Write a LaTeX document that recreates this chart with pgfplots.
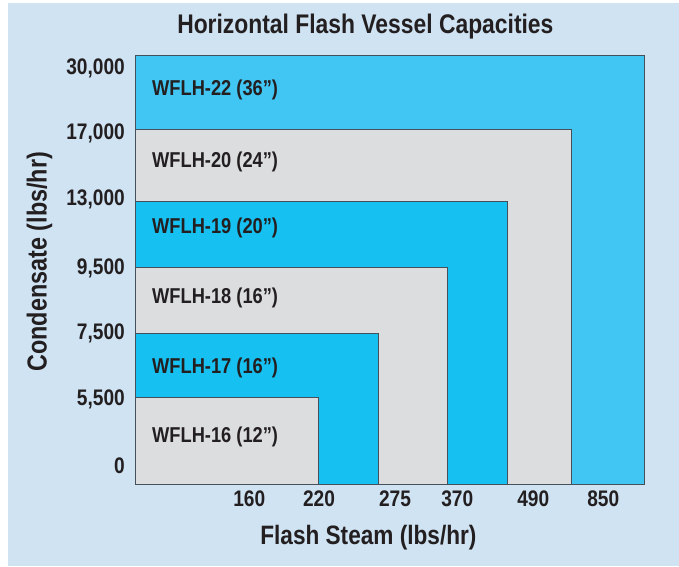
\documentclass[border=0pt]{standalone}
\usepackage{fontspec}
\setmainfont{Liberation Sans}[FakeStretch=0.85]
\usepackage{pgfplots}
\pgfplotsset{compat=1.18}
\definecolor{bgblue}{HTML}{CFE3F3}
\definecolor{cyanA}{HTML}{41C5F3}
\definecolor{cyanB}{HTML}{16C0F0}
\definecolor{boxgray}{HTML}{DCDDDF}
\definecolor{edge}{HTML}{45505A}
\definecolor{txt}{HTML}{231F20}
\begin{document}
\begin{tikzpicture}
\fill[white] (0pt,0pt) rectangle (679pt,566pt);
\fill[bgblue] (8pt,0pt) rectangle (679pt,563pt);
\begin{axis}[
  at={(135.5pt,82pt)}, anchor=south west,
  scale only axis, width=508.5pt, height=429pt,
  xmin=0, xmax=508.5, ymin=0, ymax=429,
  axis line style={draw=edge, line width=0.8pt},
  major tick length=0pt,
  /pgf/number format/assume math mode=true,
  xtick={113.8,183.5,259.5,321.8,397.8,467.8},
  xticklabels={160,220,275,370,490,850},
  ytick={18,85,151,216,285,351,416},
  yticklabels={0,{5,500},{7,500},{9,500},{13,000},{17,000},{30,000}},
  ticklabel style={font=\bfseries\fontsize{22.5}{26}\selectfont, text=txt, inner sep=0pt},
  xticklabel style={anchor=center, yshift=-15pt},
  yticklabel style={anchor=east, xshift=-10.5pt},
  title={Horizontal Flash Vessel Capacities},
  title style={font=\bfseries\fontsize{26.9}{31}\selectfont, text=txt, inner sep=0pt,
    at={(axis description cs:0.452,1.0366)}, anchor=base},
  xlabel={Flash Steam (lbs/hr)},
  xlabel style={font=\bfseries\fontsize{26.6}{31}\selectfont, text=txt, inner sep=0pt,
    at={(axis description cs:0.458,-0.126)}, anchor=center},
  ylabel={Condensate (lbs/hr)},
  ylabel style={font=\bfseries\fontsize{27.5}{32}\selectfont, text=txt, inner sep=0pt,
    at={(axis description cs:-0.189,0.518)}, anchor=center},
  clip=false,
]
\addplot[fill=cyanA, draw=edge, line width=0.8pt] coordinates {(0,0) (508.5,0) (508.5,429) (0,429)} -- cycle;
\addplot[fill=boxgray, draw=edge, line width=0.8pt] coordinates {(0,0) (436,0) (436,355) (0,355)} -- cycle;
\addplot[fill=cyanB, draw=edge, line width=0.8pt] coordinates {(0,0) (372,0) (372,283) (0,283)} -- cycle;
\addplot[fill=boxgray, draw=edge, line width=0.8pt] coordinates {(0,0) (312,0) (312,216.5) (0,216.5)} -- cycle;
\addplot[fill=cyanB, draw=edge, line width=0.8pt] coordinates {(0,0) (242.5,0) (242.5,150.5) (0,150.5)} -- cycle;
\addplot[fill=boxgray, draw=edge, line width=0.8pt] coordinates {(0,0) (183,0) (183,86.5) (0,86.5)} -- cycle;
\begin{scope}[every node/.style={anchor=base west, yshift=-7.8pt, inner sep=0pt, text=txt, font=\bfseries\fontsize{21.5}{25}\selectfont}]
\node at (axis cs:16.5,396) {WFLH-22 (36”)};
\node at (axis cs:16.5,324) {WFLH-20 (24”)};
\node at (axis cs:16.5,258) {WFLH-19 (20”)};
\node at (axis cs:16.5,188) {WFLH-18 (16”)};
\node at (axis cs:16.5,118.5) {WFLH-17 (16”)};
\node at (axis cs:16.5,49) {WFLH-16 (12”)};
\end{scope}
\end{axis}
\end{tikzpicture}
\end{document}
